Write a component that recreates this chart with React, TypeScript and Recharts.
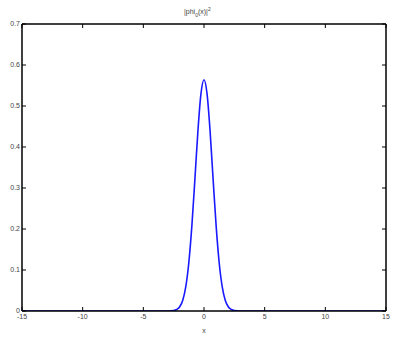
import { LineChart, Line, XAxis, YAxis } from "recharts";

// |phi_0(x)|^2 values
const xs = [-15, -3, -2.5, -2.25, -2, -1.75, -1.5, -1.25, -1, -0.75, -0.5, -0.25, 0, 0.25, 0.5, 0.75, 1, 1.25, 1.5, 1.75, 2, 2.25, 2.5, 3, 15];
const ys = [0, 0.0001, 0.001, 0.0036, 0.0103, 0.0264, 0.0593, 0.1183, 0.2076, 0.3215, 0.4394, 0.53, 0.5642, 0.53, 0.4394, 0.3215, 0.2076, 0.1183, 0.0593, 0.0264, 0.0103, 0.0036, 0.001, 0.0001, 0];
const xTicks = [-15, -10, -5, 0, 5, 10, 15];
const yTicks = [0, 0.1, 0.2, 0.3, 0.4, 0.5, 0.6, 0.7];

const data = xs.map((x, i) => ({ x, y: ys[i] }));

const font = "'Liberation Sans', Arial, sans-serif";
const tickStyle = { fontSize: 7, fill: "#444", stroke: "none", fontFamily: font };
const noLabel = () => <g />;

export default function App() {
  return (
    <div style={{ position: "absolute", left: 0, top: 0, width: 396, height: 339, background: "#fff" }}>
      <div style={{ position: "absolute", left: 184, top: 6, fontSize: 7, fontFamily: font, color: "#444", whiteSpace: "nowrap" }}>
        |phi<sub style={{ fontSize: 5 }}>0</sub>(x)|<sup style={{ fontSize: 5 }}>2</sup>
      </div>
      <LineChart width={396} height={339} data={data} margin={{ top: 23, right: 9, left: 0, bottom: 0 }}>
        <XAxis dataKey="x" type="number" domain={[-15, 15]} ticks={xTicks} allowDataOverflow interval={0}
          stroke="#000" strokeWidth={1.5} tickSize={-4} tickMargin={7} height={28}
          tick={tickStyle} tickLine={{ stroke: "#000", strokeWidth: 1 }}
          label={{ value: "x", position: "insideBottom", offset: 6, style: tickStyle }} />
        <XAxis xAxisId="top" dataKey="x" type="number" domain={[-15, 15]} ticks={xTicks} orientation="top" interval={0} allowDataOverflow
          stroke="#000" strokeWidth={1.5} tickSize={-4} height={1} tick={noLabel} tickLine={{ stroke: "#000", strokeWidth: 1 }} />
        <YAxis type="number" domain={[0, 0.7]} ticks={yTicks} allowDataOverflow interval={0}
          stroke="#000" strokeWidth={1.5} tickSize={-4} tickMargin={6} width={22}
          tick={tickStyle} tickLine={{ stroke: "#000", strokeWidth: 1 }} />
        <YAxis yAxisId="r" type="number" domain={[0, 0.7]} ticks={yTicks} orientation="right" interval={0} allowDataOverflow
          stroke="#000" strokeWidth={1.5} tickSize={-4} width={1} tick={noLabel} tickLine={{ stroke: "#000", strokeWidth: 1 }} />
        <Line xAxisId="top" yAxisId="r" type="monotone" dataKey="y" stroke="none" dot={false} activeDot={false} isAnimationActive={false} />
        <Line type="monotone" dataKey="y" stroke="#1a1aff" strokeWidth={1.6} dot={false} isAnimationActive={false} />
      </LineChart>
    </div>
  );
}
